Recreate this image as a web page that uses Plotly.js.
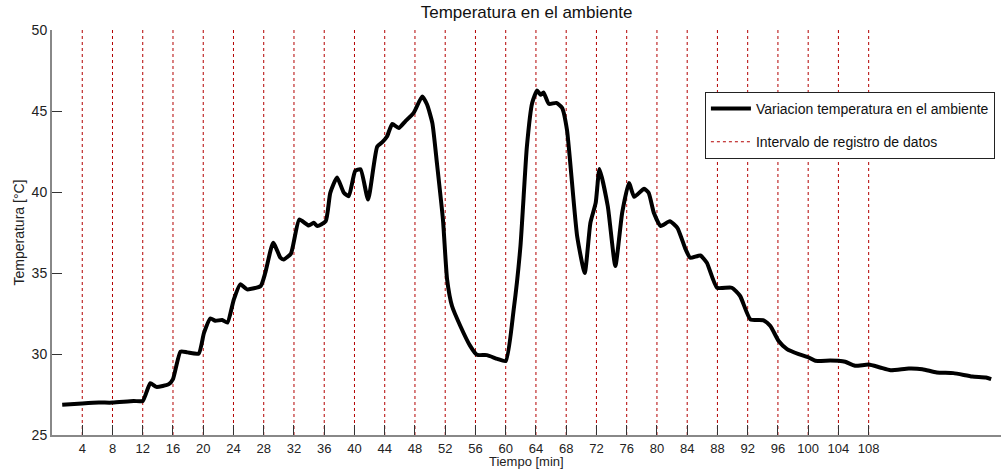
<!DOCTYPE html>
<html>
<head>
<meta charset="utf-8">
<script src="https://cdn.plot.ly/plotly-3.0.1.min.js"></script>
<style>html,body{margin:0;padding:0;background:#fff;}#chart{width:1001px;height:470px;}</style>
</head>
<body>
<div id="chart"></div>
<script>
const timeMin = [1.35, 4, 6.2, 8, 10.8, 12, 13.0, 13.8, 15.45, 16, 17.0, 17.9, 19.4, 20.1, 20.96, 21.6, 22.5, 23.2, 24.05, 24.9, 25.8, 27.6, 28.2, 29.25, 30.2, 30.65, 31.6, 32.7, 33.95, 34.6, 35.1, 36.2, 36.8, 37.7, 38.6, 39.25, 40.1, 40.8, 41.8, 43.0, 43.65, 44.3, 45.0, 45.85, 46.7, 47.85, 48.95, 49.6, 50.3, 50.9, 51.7, 52.25, 52.9, 54.0, 55.3, 56.2, 57.5, 58.9, 60.0, 61.06, 61.95, 62.8, 63.5, 64.15, 64.6, 65.0, 65.7, 66.7, 67.45, 68.1, 69.45, 70.45, 71.2, 71.9, 72.4, 73.5, 74.5, 75.4, 76.3, 77.0, 78.3, 78.9, 79.6, 80.5, 81.7, 82.7, 83.8, 84.4, 85.75, 86.6, 87.95, 89.9, 91.0, 92.35, 94.1, 95.0, 96.1, 97.2, 98.75, 100.1, 100.95, 102.9, 104.0, 104.9, 106.2, 108.0, 109.5, 110.9, 113.3, 115.1, 117.0, 119.2, 121.7, 123.5, 124.2];
const tempC = [26.87, 26.95, 27.0, 27.0, 27.1, 27.1, 28.2, 27.97, 28.14, 28.45, 30.15, 30.1, 30.03, 31.3, 32.2, 32.05, 32.1, 31.94, 33.37, 34.3, 33.99, 34.2, 35.0, 36.87, 35.95, 35.84, 36.2, 38.3, 37.93, 38.1, 37.9, 38.2, 39.95, 40.9, 39.95, 39.74, 41.3, 41.4, 39.53, 42.8, 43.06, 43.43, 44.2, 43.95, 44.35, 44.9, 45.9, 45.4, 44.25, 41.8, 38.3, 34.6, 32.96, 31.73, 30.5, 29.95, 29.93, 29.7, 29.57, 32.76, 36.66, 42.8, 45.5, 46.26, 46.0, 46.14, 45.44, 45.5, 45.2, 43.84, 37.27, 35.0, 38.1, 39.33, 41.42, 39.12, 35.43, 38.71, 40.56, 39.7, 40.2, 39.95, 38.7, 37.9, 38.2, 37.79, 36.45, 35.94, 36.08, 35.63, 34.09, 34.09, 33.58, 32.14, 32.08, 31.73, 30.8, 30.3, 29.99, 29.78, 29.58, 29.6, 29.58, 29.52, 29.27, 29.35, 29.17, 29.0, 29.1, 29.06, 28.86, 28.82, 28.61, 28.55, 28.45];
const registroMin = [4, 8, 12, 16, 20, 24, 28, 32, 36, 40, 44, 48, 52, 56, 60, 64, 68, 72, 76, 80, 84, 88, 92, 96, 100, 104, 108];
const xTickLabels = registroMin.map(String);
const yTicks = [25, 30, 35, 40, 45, 50];

const yRange = [25, 50];
const lx = [], ly = [];
registroMin.forEach(v => { lx.push(v, v, null); ly.push(yRange[0], yRange[1], null); });

const font = "Liberation Sans, Arial, sans-serif";
const traces = [
  {
    x: lx, y: ly, type: 'scatter', mode: 'lines',
    name: 'Intervalo de registro de datos', legendgroup: 'b', legendrank: 2,
    line: {color: '#b30000', width: 1, dash: 'dot'}
  },
  {
    x: timeMin, y: tempC, type: 'scatter', mode: 'lines',
    name: 'Variacion temperatura en el ambiente', legendgroup: 'a', legendrank: 1,
    line: {color: '#000', width: 4, shape: 'spline', smoothing: 0.5}
  }
];

const layout = {
  width: 1001, height: 470,
  margin: {l: 52, r: 0, t: 30, b: 35},
  paper_bgcolor: '#fff', plot_bgcolor: '#fff',
  font: {family: font, size: 14, color: '#222'},
  showlegend: true,
  title: {text: 'Temperatura en el ambiente', x: 0.526, xanchor: 'center', y: 0.986, yanchor: 'top', font: {family: font, size: 17, color: '#111'}},
  xaxis: {
    range: [0, 125.5], showgrid: false, zeroline: false,
    tickmode: 'array', tickvals: registroMin, ticktext: xTickLabels,
    ticks: 'inside', ticklen: 10, tickcolor: '#333', tickwidth: 1,
    showline: true, linecolor: '#888', linewidth: 2,
    tickfont: {family: font, size: 13, color: '#222'}
  },
  yaxis: {
    range: yRange, showgrid: false, zeroline: false,
    tickmode: 'array', tickvals: yTicks,
    ticks: 'inside', ticklen: 10, tickcolor: '#333', tickwidth: 1,
    showline: true, linecolor: '#888', linewidth: 2,
    tickfont: {family: font, size: 14, color: '#222'},
    title: {text: 'Temperatura [°C]', standoff: 4, font: {family: font, size: 14, color: '#222'}}
  },
  annotations: [{
    text: 'Tiempo [min]', xref: 'paper', yref: 'paper', x: 0.5, y: -0.0654,
    xanchor: 'center', yanchor: 'middle', showarrow: false, borderpad: 0,
    font: {family: font, size: 13, color: '#222'}
  }],
  legend: {
    x: 0.688, y: 0.847, xanchor: 'left', yanchor: 'top',
    bgcolor: '#fff', bordercolor: '#222', borderwidth: 1,
    font: {family: font, size: 14, color: '#111'},
    itemwidth: 40, tracegroupgap: 12
  }
};

Plotly.newPlot('chart', traces, layout, {displayModeBar: false, staticPlot: true});
</script>
</body>
</html>
